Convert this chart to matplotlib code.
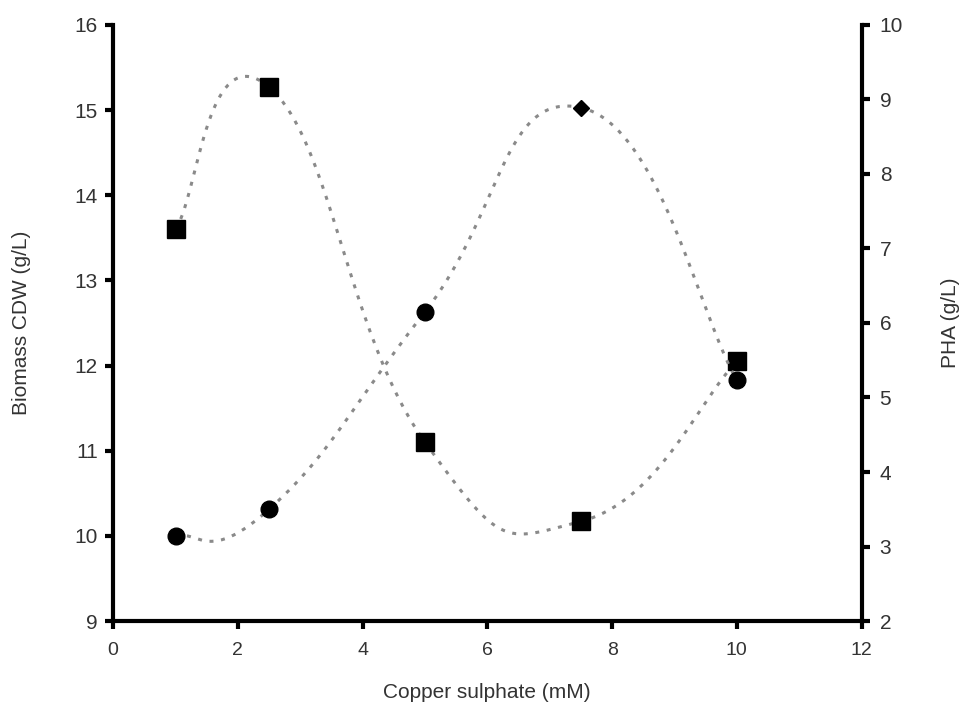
import numpy as np
import matplotlib
matplotlib.use("Agg")
import matplotlib.pyplot as plt

plt.rcParams['font.family'] = ['Liberation Sans', 'DejaVu Sans']

# Data
copper = [1, 2.5, 5, 7.5, 10]
biomass = [13.60, 15.27, 11.10, 10.17, 12.05]   # left axis, g/L
pha = [3.14, 3.50, 6.15, 8.89, 5.23]            # right axis, g/L
pha_markers = ['o', 'o', 'o', 'D', 'o']

TEXT = '#333333'
LINE = '#8a8a8a'


def smooth_curve(axis, xd, yd, tension=0.25, n=80):
    """Cardinal spline through the points, built in display space."""
    P = axis.transData.transform(np.column_stack([xd, yd]))
    P = np.vstack([P[0], P, P[-1]])
    t = np.linspace(0, 1, n)[:, None]
    pieces = []
    for i in range(1, len(P) - 2):
        p0, p3 = P[i], P[i + 1]
        p1 = p0 + (P[i + 1] - P[i - 1]) * tension
        p2 = p3 - (P[i + 2] - P[i]) * tension
        seg = ((1 - t) ** 3 * p0 + 3 * (1 - t) ** 2 * t * p1
               + 3 * (1 - t) * t ** 2 * p2 + t ** 3 * p3)
        pieces.append(seg if i == 1 else seg[1:])
    pts = axis.transData.inverted().transform(np.vstack(pieces))
    return pts[:, 0], pts[:, 1]


fig = plt.figure(figsize=(9.67, 7.13), dpi=100)
ax = fig.add_axes([0.117, 0.129, 0.774, 0.836])
ax2 = ax.twinx()

ax.set_xlim(0, 12)
ax.set_ylim(9, 16)
ax2.set_ylim(2, 10)
ax.set_xticks(range(0, 13, 2))
ax.set_yticks(range(9, 17))
ax2.set_yticks(range(2, 11))

line_kw = dict(color=LINE, lw=2.2, linestyle=(0, (1.3, 2.5)), zorder=1)

cx, cy = smooth_curve(ax, copper, biomass)
ax.plot(cx, cy, **line_kw)
ax.plot(copper, biomass, 's', color='black', ms=12.5, zorder=3)

px, py = smooth_curve(ax2, copper, pha)
ax2.plot(px, py, **line_kw)
for xv, yv, m in zip(copper, pha, pha_markers):
    ax2.plot(xv, yv, m, color='black', ms=(8.5 if m == 'D' else 12), zorder=3)

for a in (ax, ax2):
    a.spines['top'].set_visible(False)
    for s in ('left', 'right', 'bottom'):
        a.spines[s].set_linewidth(3.0)
    a.tick_params(width=3, length=6, direction='out', colors='black',
                  labelcolor=TEXT)
ax.spines['right'].set_visible(False)
ax2.spines['left'].set_visible(False)
ax2.spines['bottom'].set_visible(False)

ax.tick_params(axis='x', labelsize=14, pad=9)
ax.tick_params(axis='y', labelsize=15, pad=5)
ax2.tick_params(axis='y', labelsize=15, pad=7)

fig.text(487 / 967, 1 - 693 / 713, 'Copper sulphate (mM)', fontsize=15,
         color=TEXT, ha='center', va='center')
fig.text(22 / 967, 1 - 323 / 713, 'Biomass CDW (g/L)', fontsize=15,
         color=TEXT, ha='center', va='center', rotation=90)
fig.text(950 / 967, 1 - 323 / 713, 'PHA (g/L)', fontsize=15,
         color=TEXT, ha='center', va='center', rotation=90)

fig.savefig('out.png', dpi=100)
